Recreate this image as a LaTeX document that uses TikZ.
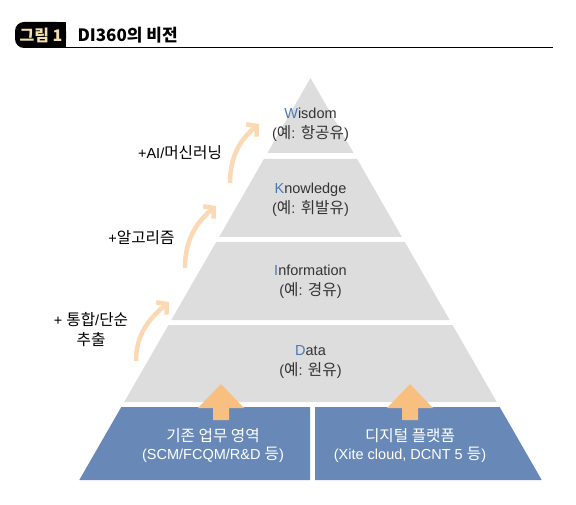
\documentclass[tikz,border=0pt]{standalone}
\usepackage{fontspec}
\setmainfont{Liberation Sans}
\newfontfamily\kr{Noto Sans CJK KR}[Scale=1.08]
\newfontfamily\krt{Noto Sans CJK KR}
\usetikzlibrary{arrows.meta}
\newcommand\ko[1]{{\kr #1}}
\definecolor{laygray}{HTML}{DDDDDD}
\definecolor{boxblue}{HTML}{6889B7}
\definecolor{orng}{HTML}{F8C080}
\definecolor{peach}{HTML}{FAD9B4}
\definecolor{lblue}{HTML}{4A78B0}
\definecolor{txtgray}{HTML}{333333}
\definecolor{titletan}{HTML}{F2DFB0}
\tikzset{
  layer/.style={fill=laygray},
  bluebox/.style={fill=boxblue},
  laytext/.style={align=center, text=txtgray, font=\fontsize{14.5}{20}\selectfont},
  boxtext/.style={align=center, text=white, font=\fontsize{14.5}{18}\selectfont},
  sidetext/.style={align=center, text=black, font=\fontsize{14.5}{20}\selectfont},
  uparrow/.style={fill=orng},
  curvearrow/.style={draw=peach, line width=4.5pt, -{Straight Barb[length=7pt,width=16pt]}}
}
\begin{document}
\begin{tikzpicture}[x=1pt,y=-1pt]
\useasboundingbox (0,0) rectangle (576,505);
% title
\fill[black, rounded corners=9pt] (15,22) rectangle (66,48);
\fill[black] (40,22) rectangle (66,48);
\node[text=titletan, font=\krt\bfseries\fontsize{16}{16}\selectfont] (fig) at (41,35) {그림 1};
\node[anchor=west, font=\krt\bfseries\fontsize{17}{17}\selectfont] (ttl) at (74,35) {DI360의 비전};
\coordinate (ruleA) at (66,47.5);
\coordinate (ruleB) at (553,47.5);
\draw[line width=0.9pt] (ruleA) -- (ruleB);
% pyramid layers
\fill[layer] (310.5,78) -- (353.6,153) -- (267.4,153) -- cycle;
\fill[layer] (263.9,159) -- (357.1,159) -- (401.9,237) -- (219.1,237) -- cycle;
\fill[layer] (216.2,242) -- (404.8,242) -- (449.7,320) -- (171.3,320) -- cycle;
\fill[layer] (168.5,325) -- (452.5,325) -- (496.8,402) -- (124.2,402) -- cycle;
\fill[bluebox] (121.3,407) -- (310,407) -- (310,480) -- (79.3,480) -- cycle;
\fill[bluebox] (315,407) -- (499.7,407) -- (541.7,480) -- (315,480) -- cycle;
% layer texts
\node[laytext] (wis) at (310.5,125) {\textcolor{lblue}{W}isdom\\(\ko{예}: \ko{항공유})};
\node[laytext] (kno) at (310.5,199.5) {\textcolor{lblue}{K}nowledge\\(\ko{예}: \ko{휘발유})};
\node[laytext] (inf) at (310.5,281.5) {\textcolor{lblue}{I}nformation\\(\ko{예}: \ko{경유})};
\node[laytext] (dat) at (310.5,362.5) {\textcolor{lblue}{D}ata\\(\ko{예}: \ko{원유})};
% up arrows
\fill[uparrow] (221,384) -- (244,408) -- (229,408) -- (229,420) -- (213,420) -- (213,408) -- (198,408) -- cycle;
\fill[uparrow] (410,384) -- (433,408) -- (418,408) -- (418,420) -- (402,420) -- (402,408) -- (387,408) -- cycle;
% box texts
\node[boxtext] (leg) at (213,446) {\ko{기존 업무 영역}\\(SCM/FCQM/R\&D \ko{등})};
\node[boxtext] (dig) at (410,446) {\ko{디지털 플랫폼}\\(Xite cloud, DCNT 5 \ko{등})};
% curved arrows
\coordinate (a1s) at (136,361);
\coordinate (a1e) at (169,302);
\coordinate (a2s) at (185,268);
\coordinate (a2e) at (216,206);
\coordinate (a3s) at (230,183);
\coordinate (a3e) at (259,124);
\draw[curvearrow] (a1s) to[out=90,in=220] (a1e);
\draw[curvearrow] (a2s) to[out=90,in=220] (a2e);
\draw[curvearrow] (a3s) to[out=90,in=220] (a3e);
% side labels
\node[sidetext] (l3) at (180,153) {+AI/\ko{머신러닝}};
\node[sidetext] (l2) at (141.5,238) {+\ko{알고리즘}};
\node[sidetext] (l1) at (91,330) {+ \ko{통합}/\ko{단순}\\\ko{추출}};
\end{tikzpicture}
\end{document}
